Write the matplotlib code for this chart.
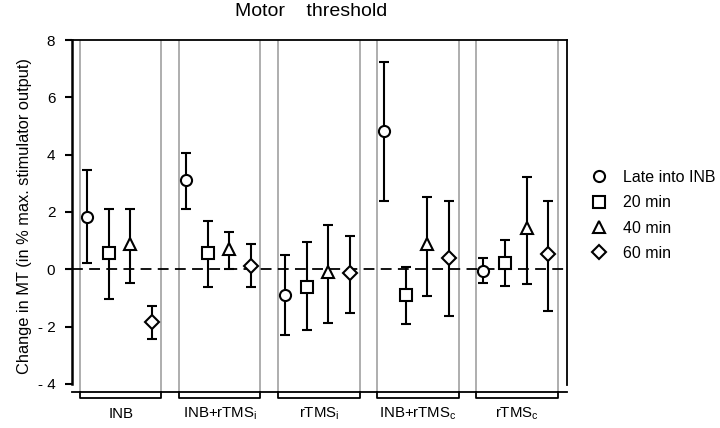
import numpy as np
import matplotlib
matplotlib.use("Agg")
import matplotlib.pyplot as plt
from matplotlib.lines import Line2D

plt.rcParams['font.family'] = ['Liberation Sans', 'DejaVu Sans']
plt.rcParams['mathtext.fontset'] = 'custom'
plt.rcParams['mathtext.rm'] = 'Liberation Sans'

# groups and series
groups = ['INB', 'INB+rTMS$_\\mathrm{i}$', 'rTMS$_\\mathrm{i}$',
          'INB+rTMS$_\\mathrm{c}$', 'rTMS$_\\mathrm{c}$']
series = ['Late into INB', '20 min', '40 min', '60 min']
markers = ['o', 's', '^', 'D']
msizes = [8, 8, 9, 7.5]

late = [1.82, 3.1, -0.9, 4.83, -0.07]
late_hi = [3.45, 4.07, 0.49, 7.24, 0.38]
late_lo = [0.21, 2.12, -2.3, 2.37, -0.49]
m20 = [0.56, 0.56, -0.62, -0.9, 0.21]
m20_hi = [2.12, 1.68, 0.94, 0.07, 1.04]
m20_lo = [-1.04, -0.62, -2.12, -1.91, -0.59]
m40 = [0.9, 0.72, -0.1, 0.9, 1.44]
m40_hi = [2.12, 1.29, 1.53, 2.54, 3.23]
m40_lo = [-0.49, 0.0, -1.88, -0.94, -0.52]
m60 = [-1.84, 0.1, -0.14, 0.38, 0.54]
m60_hi = [-1.29, 0.87, 1.18, 2.4, 2.4]
m60_lo = [-2.43, -0.62, -1.53, -1.64, -1.46]

means = [late, m20, m40, m60]
his = [late_hi, m20_hi, m40_hi, m60_hi]
los = [late_lo, m20_lo, m40_lo, m60_lo]

period = 4.6
fig = plt.figure(figsize=(7.2, 4.28), dpi=100)
ax = fig.add_axes([0.1, 0.0841, 0.6875, 0.8224])

x0 = np.arange(len(groups)) * period
# panel separators
for g in range(len(groups)):
    for xv in (x0[g] - 0.33, x0[g] + 3.45):
        ax.axvline(xv, color='#a8a8a8', lw=1.3, zorder=1)

ax.axhline(0, color='black', lw=1.3, ls=(0, (6, 3.5)), zorder=2)

for k in range(4):
    m = np.array(means[k])
    hi = np.array(his[k])
    lo = np.array(los[k])
    xs = x0 + k
    ax.errorbar(xs, m, yerr=[m - lo, hi - m], fmt='none', ecolor='black',
                elinewidth=1.5, capsize=3.5, capthick=1.5, zorder=3)
    ax.plot(xs, m, ls='none', marker=markers[k], ms=msizes[k],
            mfc='white', mec='black', mew=1.5, zorder=4)

ax.set_xlim(-0.7, x0[-1] + 3 + 0.88)
ax.set_ylim(-4.28, 8)
ax.set_yticks([8, 6, 4, 2, 0, -2, -4])
ax.set_yticklabels(['8', '6', '4', '2', '0', '- 2', '- 4'])
ax.set_xticks([])
ax.tick_params(axis='y', direction='out', length=5, width=1.5,
               labelsize=11, pad=7)
ax.spines['left'].set_bounds(-4, 8)
ax.spines['left'].set_linewidth(1.8)
ax.spines['right'].set_bounds(-4.05, 8)
for s in ('top', 'right', 'bottom'):
    ax.spines[s].set_linewidth(1.3)

ax.set_ylabel('Change in MT (in % max. stimulator output)', fontsize=11.8,
              labelpad=4)

# group brackets and labels
for g in range(len(groups)):
    a, b = x0[g] - 0.33, x0[g] + 3.45
    ax.plot([a, a, b, b], [-4.28, -4.49, -4.49, -4.28], color='black',
            lw=1.3, clip_on=False)
    ax.text((a + b) / 2, -5.05, groups[g], ha='center', va='center',
            fontsize=10.8)

fig.text(311 / 720, 1 - 12 / 428, 'Motor    threshold', ha='center',
         va='center', fontsize=14)

handles = [Line2D([], [], ls='none', marker=markers[k], ms=msizes[k],
                  mfc='white', mec='black', mew=1.5) for k in range(4)]
fig.legend(handles, series, loc='upper left', bbox_to_anchor=(0.822, 0.603),
           frameon=False, fontsize=11.5, handlelength=0.95,
           handletextpad=1.0, labelspacing=0.65, borderpad=0,
           borderaxespad=0)

fig.savefig('out.png', dpi=100)
